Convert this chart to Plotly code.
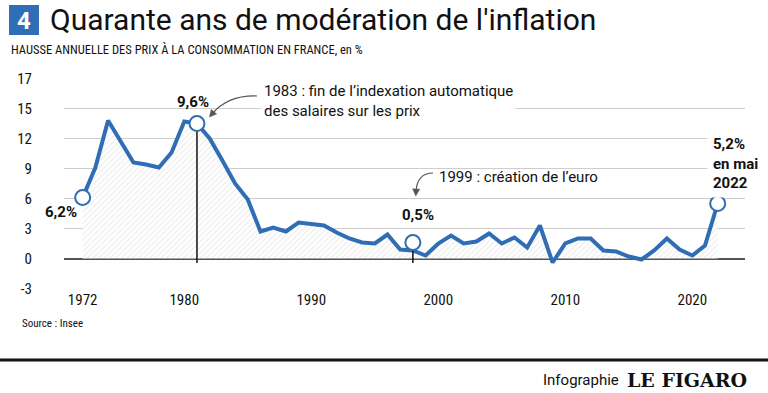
import math
import plotly.graph_objects as go

# ---------------- data ----------------
years = list(range(1972, 2023))
inflation = [6.1, 9.1, 13.8, 11.7, 9.6, 9.4, 9.1, 10.6, 13.7, 13.5,
             12.0, 9.8, 7.5, 5.9, 2.7, 3.1, 2.7, 3.6, 3.4, 3.3,
             2.6, 2.0, 1.6, 1.5, 2.4, 0.9, 0.8, 0.3, 1.5, 2.3,
             1.5, 1.7, 2.5, 1.5, 2.1, 1.1, 3.3, -0.4, 1.5, 2.0,
             2.0, 0.8, 0.7, 0.2, -0.1, 0.8, 2.0, 0.9, 0.3, 1.3,
             5.5]
highlight_years = [1972, 1981, 1998, 2022]
highlight_values = [6.1, 13.5, 1.6, 5.5]
event_years = [1981, 1998]
event_values = [13.5, 1.6]
event_base = -0.45
x_ticks = [1972, 1980, 1990, 2000, 2010, 2020]
y_ticks = [-3, 0, 3, 6, 9, 12, 15, 18]
y_tick_text = ["-3", "0", "3", "6", "9", "12", "15", "17"]

BLUE = "#2f6db5"
FONT = "Roboto Condensed, Liberation Sans Narrow, Roboto, sans-serif"
FONT_R = "Roboto, sans-serif"

W, H = 768, 393
L, R, T, B = 64, 745, 78, 289


def px(x):
    return (x - L) / (R - L)


def py(y):
    return (B - y) / (B - T)


fig = go.Figure()

fig.add_trace(go.Scatter(
    x=years, y=inflation, mode="lines",
    line=dict(color=BLUE, width=4),
    fill="tozeroy",
    fillpattern=dict(shape="/", fgcolor="#d4d4d4", bgcolor="white", size=4, solidity=0.25),
    fillcolor="white",
    hoverinfo="skip", showlegend=False,
))

# event vertical lines (drawn before the circles)
for yr, v in zip(event_years, event_values):
    fig.add_trace(go.Scatter(
        x=[yr, yr], y=[event_base, v], mode="lines",
        line=dict(color="#111", width=1.5), hoverinfo="skip", showlegend=False,
    ))

fig.add_trace(go.Scatter(
    x=highlight_years, y=highlight_values, mode="markers",
    marker=dict(symbol="circle", size=15, color="white", line=dict(color=BLUE, width=2)),
    hoverinfo="skip", showlegend=False,
))

shapes = []
# title square
shapes.append(dict(type="rect", xref="paper", yref="paper", x0=px(9), x1=px(39),
                   y0=py(35), y1=py(5), fillcolor=BLUE, line=dict(width=0), layer="above"))
# bottom rule
shapes.append(dict(type="line", xref="paper", yref="paper", x0=px(0), x1=px(768),
                   y0=py(360), y1=py(360), line=dict(color="#111", width=3)))


def curved_arrow(p0, c, p1, color="#555"):
    path = "M {} {} Q {} {} {} {}".format(px(p0[0]), py(p0[1]), px(c[0]), py(c[1]), px(p1[0]), py(p1[1]))
    out = [dict(type="path", xref="paper", yref="paper", path=path,
                line=dict(color=color, width=1.2), layer="above")]
    dx, dy = p1[0] - c[0], p1[1] - c[1]
    n = math.hypot(dx, dy)
    ux, uy = dx / n, dy / n
    tip = (p1[0] + ux * 4, p1[1] + uy * 4)
    base = (p1[0] - ux * 3, p1[1] - uy * 3)
    a = (base[0] - uy * 3.5, base[1] + ux * 3.5)
    b = (base[0] + uy * 3.5, base[1] - ux * 3.5)
    tri = "M {} {} L {} {} L {} {} Z".format(px(tip[0]), py(tip[1]), px(a[0]), py(a[1]), px(b[0]), py(b[1]))
    out.append(dict(type="path", xref="paper", yref="paper", path=tri,
                    fillcolor=color, line=dict(color=color, width=0.5), layer="above"))
    return out


shapes += curved_arrow((257, 96), (228, 95), (212, 114))
shapes += curved_arrow((433, 173), (417, 173), (416, 192))


def ann(text, x, y, size=15, bold=False, xanchor="center", yanchor="middle", color="#111",
        family=FONT_R, align="left", bg=None, pad=1):
    if bold:
        text = "<b>" + text + "</b>"
    d = dict(text=text, x=px(x), y=py(y), xref="paper", yref="paper", showarrow=False,
             xanchor=xanchor, yanchor=yanchor, align=align, borderpad=pad,
             font=dict(size=size, color=color, family=family))
    if bg:
        d["bgcolor"] = bg
    return d


annotations = [
    ann("Quarante ans de modération de l'inflation", 48, 19, size=30, xanchor="left"),
    ann("4", 24, 21, size=24, bold=True, color="white"),
    ann("HAUSSE ANNUELLE DES PRIX À LA CONSOMMATION EN FRANCE, en %", 9, 49, size=12.5,
        xanchor="left", family=FONT),
    ann("6,2%", 61, 212, bold=True),
    ann("9,6%", 193, 102, bold=True),
    ann("1983 : fin de l’indexation automatique<br>des salaires sur les prix", 261, 101,
        xanchor="left", bg="white", pad=2),
    ann("1999 : création de l’euro", 437, 177, xanchor="left"),
    ann("0,5%", 418, 215, bold=True),
    ann("5,2%<br>en mai<br>2022", 707, 163, bold=True, xanchor="left", bg="white", pad=5),
    ann("Source : Insee", 20, 323, size=11, xanchor="left", family=FONT),
    ann("Infographie", 621, 380, size=15, xanchor="right", family=FONT_R),
    ann("LE FIGARO", 625, 380, size=19, bold=True, xanchor="left",
        family="DejaVu Serif, serif"),
]

fig.update_layout(
    width=W, height=H,
    margin=dict(l=L, r=W - R, t=T, b=H - B, pad=0),
    paper_bgcolor="white", plot_bgcolor="white",
    showlegend=False,
    shapes=shapes,
    annotations=annotations,
    font=dict(family=FONT, color="#111"),
)
fig.update_xaxes(
    range=[1970.53, 2024.15], tickvals=x_ticks, showgrid=False, zeroline=False,
    showline=False, ticks="", tickfont=dict(size=15, family=FONT, color="#111"),
)
fig.update_yaxes(
    range=[-3.05, 18.05], tickvals=y_ticks, ticktext=y_tick_text,
    showgrid=True, gridcolor="#cdcdcd", gridwidth=1,
    zeroline=True, zerolinecolor="#555", zerolinewidth=1.5,
    showline=False, ticks="outside", ticklen=28, tickcolor="rgba(0,0,0,0)",
    tickfont=dict(size=15, family=FONT, color="#111"),
)

fig.write_html(
    "out.html",
    config={"displayModeBar": False},
    post_script="document.body.style.margin='0';document.body.style.overflow='hidden';",
)
